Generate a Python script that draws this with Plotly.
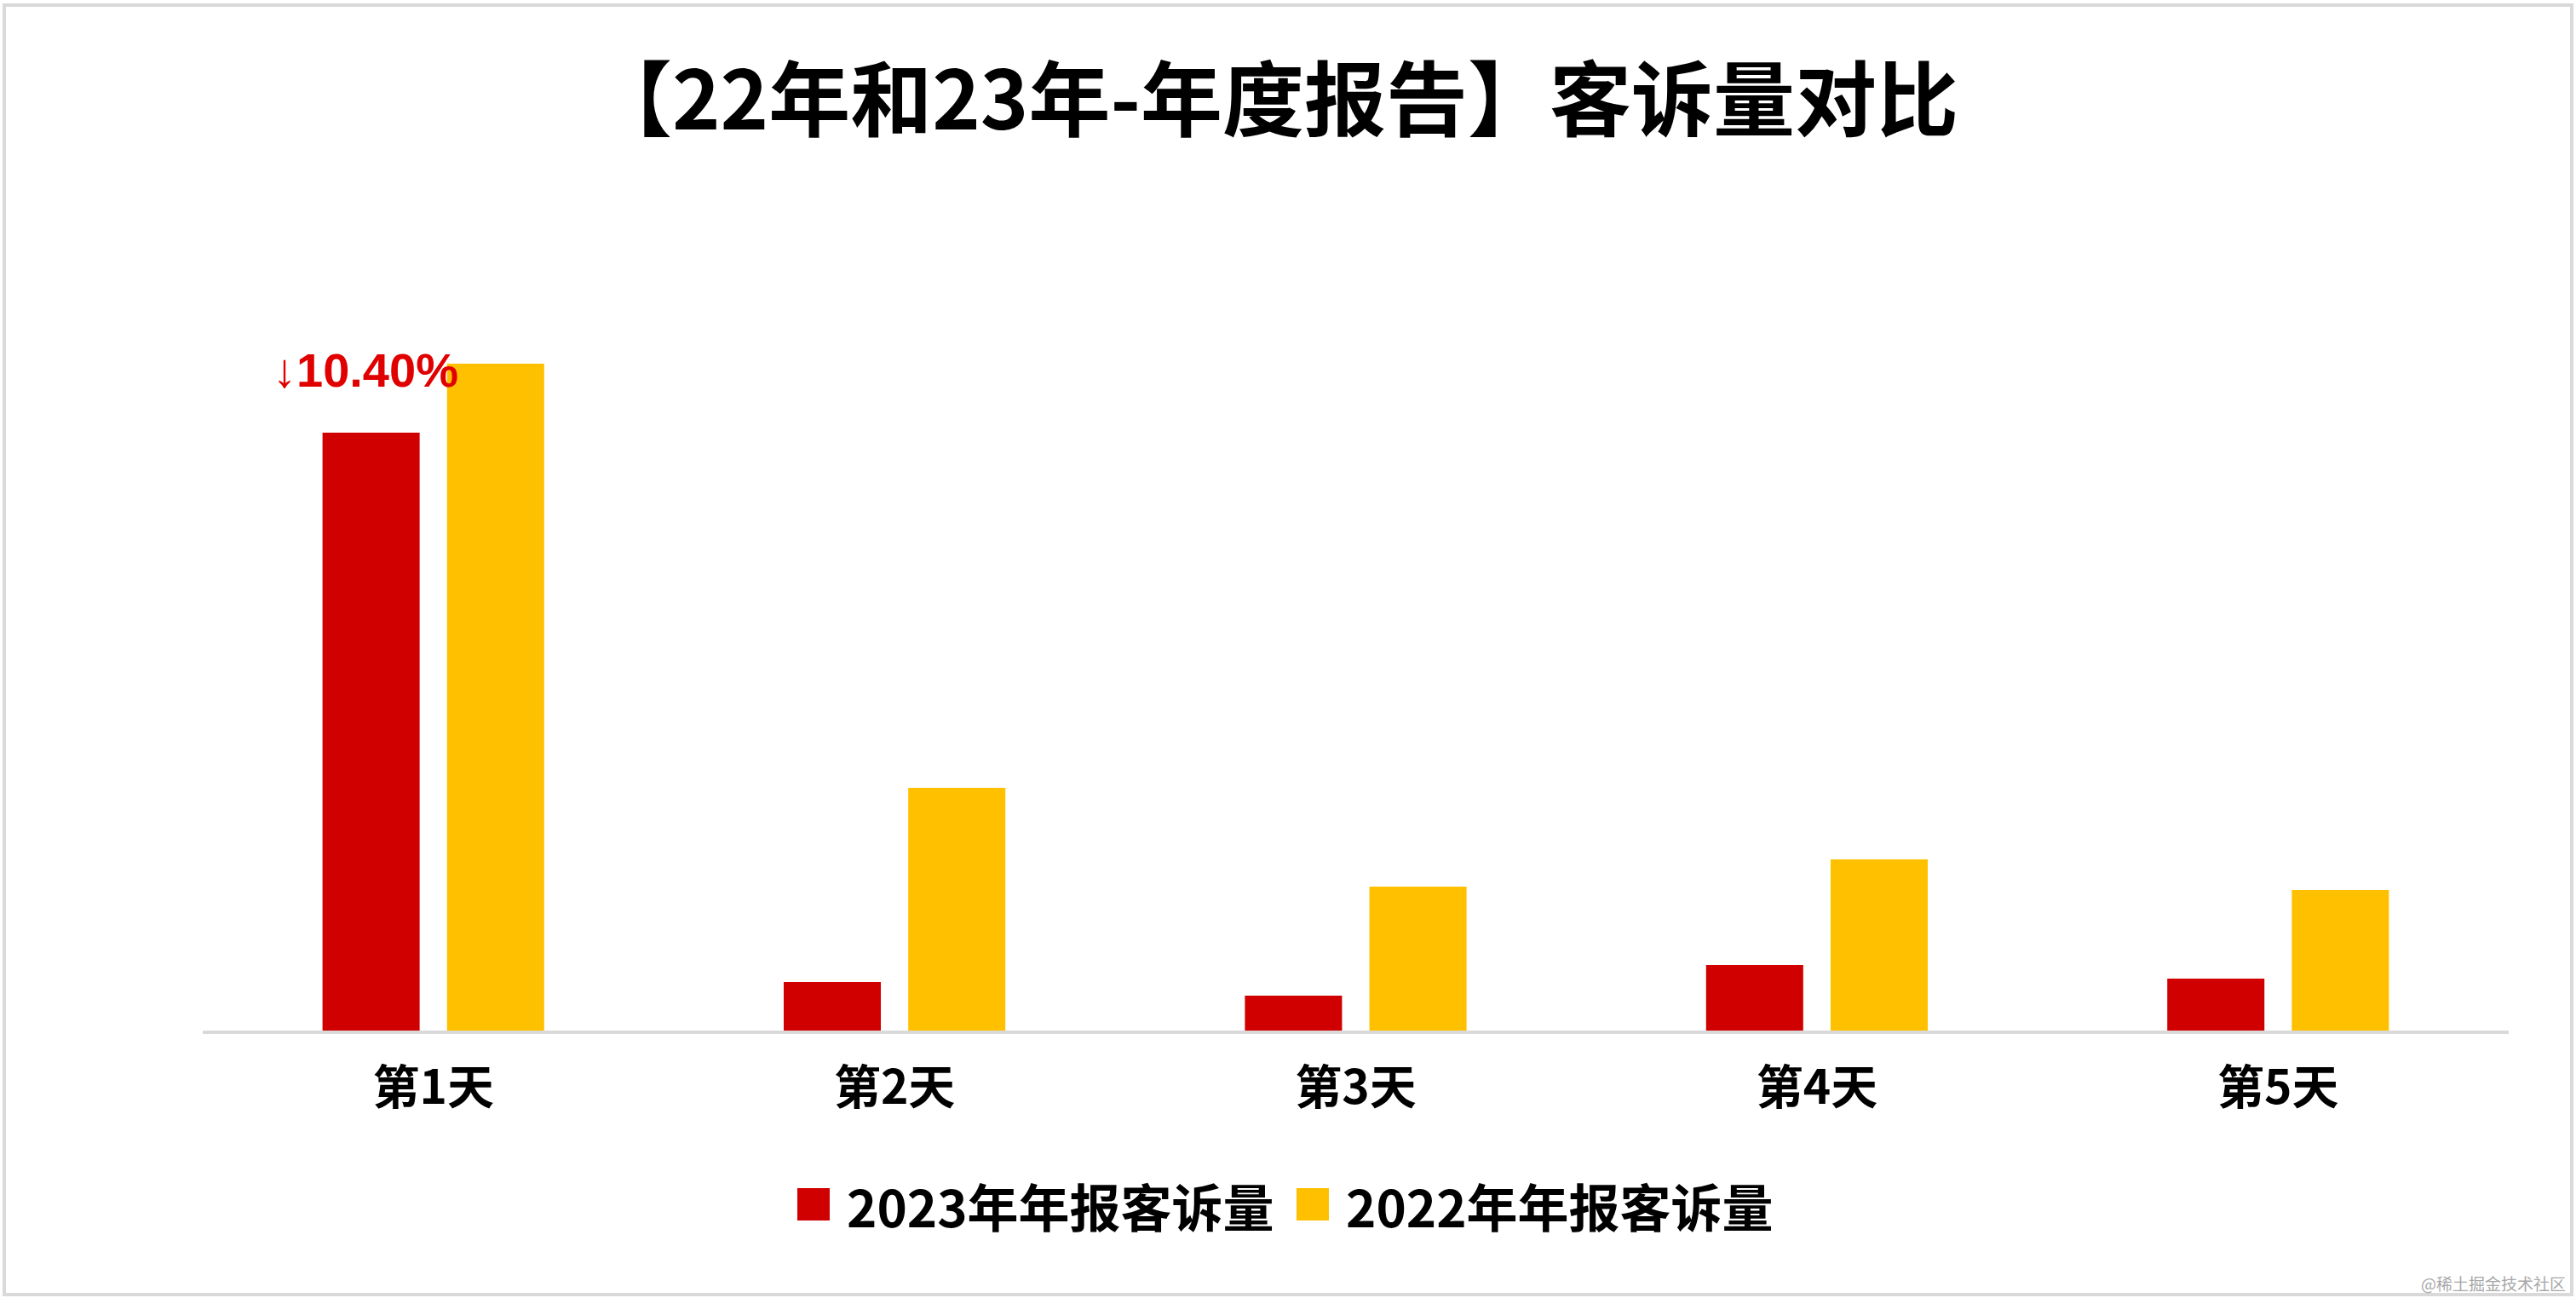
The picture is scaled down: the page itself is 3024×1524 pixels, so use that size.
import plotly.graph_objects as go

# data (no value axis shown, units are arbitrary)
days = ['第1天', '第2天', '第3天', '第4天', '第5天']
complaints_2023 = [702, 57, 41, 77, 61]
complaints_2022 = [783, 285, 169, 201, 165]
series_names = ['2023年年报客诉量', '2022年年报客诉量']
series_colors = ['#D10000', '#FFC000']
drop_label = '↓10.40%'

title = '【22年和23年-年度报告】客诉量对比'
watermark = '@稀土掘金技术社区'

W, H = 3024, 1524
L, R, T, B = 238, 79, 200, 314
PW, PH = W - L - R, H - T - B
FONT = 'Noto Sans CJK SC'


# page pixels -> paper coords, used for the hand made legend and frame
def px(x):
    return (x - L) / PW


def py(y):
    return (H - B - y) / PH


fig = go.Figure()
fig.add_trace(go.Bar(x=days, y=complaints_2023, name=series_names[0],
                     marker=dict(color=series_colors[0], line=dict(width=0)),
                     showlegend=False))
fig.add_trace(go.Bar(x=days, y=complaints_2022, name=series_names[1],
                     marker=dict(color=series_colors[1], line=dict(width=0)),
                     showlegend=False))

shapes = []
annotations = []

# legend: big squares + bold labels
legend_x = [936, 1522]
for i in range(2):
    x0 = legend_x[i]
    shapes.append(dict(type='rect', xref='paper', yref='paper',
                       x0=px(x0), x1=px(x0 + 38), y0=py(1433), y1=py(1395),
                       fillcolor=series_colors[i], line=dict(width=0)))
    annotations.append(dict(text=series_names[i], xref='paper', yref='paper',
                            x=px(x0 + 56), y=py(1414), xanchor='left', yanchor='middle',
                            showarrow=False,
                            font=dict(family=FONT, size=60, color='#000000', weight='bold')))

# percentage drop above the first red bar
annotations.append(dict(text=drop_label, x=days[0], y=complaints_2023[0],
                        xshift=-80, yshift=74, xanchor='center', yanchor='middle',
                        showarrow=False,
                        font=dict(family='Liberation Sans', size=56, color='#E00000',
                                  weight='bold')))

annotations.append(dict(text=watermark, xref='paper', yref='paper',
                        x=px(3014), y=py(1506), xanchor='right', yanchor='middle',
                        showarrow=False,
                        font=dict(family=FONT, size=19, color='#A8A8A8')))

# outer frame
shapes.append(dict(type='rect', xref='paper', yref='paper',
                   x0=px(5), x1=px(3019), y0=py(1520), y1=py(6),
                   line=dict(color='#D9D9D9', width=4), layer='below'))

fig.update_layout(
    width=W, height=H,
    margin=dict(l=L, r=R, t=T, b=B),
    paper_bgcolor='white', plot_bgcolor='white',
    title=dict(text=title, xref='container', yref='container',
               x=0.4947, y=1 - 118 / H, xanchor='center', yanchor='middle',
               font=dict(family=FONT, size=96, color='#000000', weight='bold')),
    barmode='group', bargap=0.46, bargroupgap=0.22,
    xaxis=dict(showline=True, linecolor='#D9D9D9', linewidth=4,
               showgrid=False, zeroline=False, ticks='',
               ticklabelstandoff=16,
               tickfont=dict(family=FONT, size=55, color='#000000', weight='bold')),
    yaxis=dict(visible=False, range=[0, PH], showgrid=False, zeroline=False),
    showlegend=False,
    shapes=shapes,
    annotations=annotations,
)

# drop the browser's default 8px body margin so the page lines up with the figure
fig.write_html('out.html', config={'displayModeBar': False},
               post_script="document.body.style.margin='0';")
